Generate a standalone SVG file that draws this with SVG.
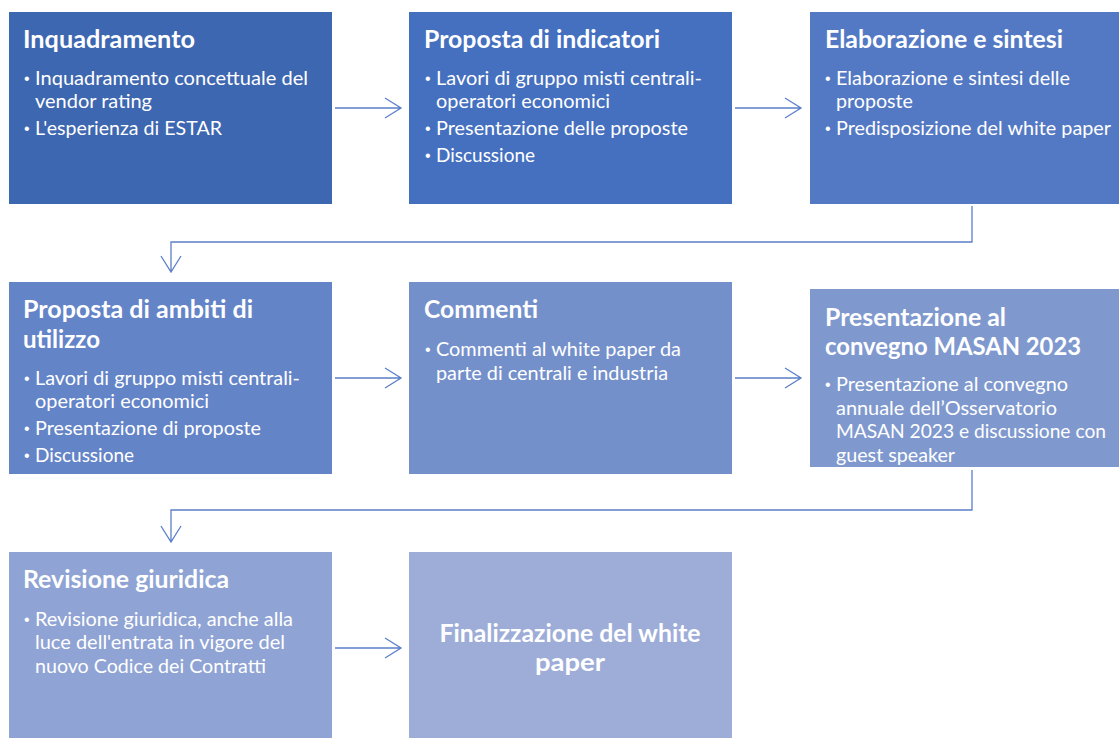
<svg xmlns="http://www.w3.org/2000/svg" width="1119" height="738" viewBox="0 0 1119 738">
  <defs>
    <style>
      .t { font-family: Lato, "Open Sans", "Liberation Sans", sans-serif; font-weight: 700; font-size: 25px; fill: #ffffff; }
      .b { font-family: Lato, "Open Sans", "Liberation Sans", sans-serif; font-size: 19px; fill: #ffffff; }
      .dot { font-family: "Liberation Sans", sans-serif; font-size: 16px; fill: #ffffff; }
      .link { fill: none; stroke: #5b7fc9; stroke-width: 1.3; }
    </style>
  </defs>
  <rect width="1119" height="738" fill="#ffffff"/>

  <!-- row 1 -->
  <g id="inquadramento">
    <rect x="9" y="12" width="323" height="192" fill="#3e67b1"/>
    <text class="t" x="23" y="48" textLength="172" lengthAdjust="spacingAndGlyphs">Inquadramento</text>
    <text class="dot" x="24" y="84">•</text>
    <text class="b" x="35" y="85" textLength="273" lengthAdjust="spacingAndGlyphs">Inquadramento concettuale del</text>
    <text class="b" x="35" y="108" textLength="117" lengthAdjust="spacingAndGlyphs">vendor rating</text>
    <text class="dot" x="24" y="134">•</text>
    <text class="b" x="35" y="135" textLength="187" lengthAdjust="spacingAndGlyphs">L'esperienza di ESTAR</text>
  </g>

  <g id="proposta-indicatori">
    <rect x="409" y="12" width="323" height="192" fill="#4570c0"/>
    <text class="t" x="424" y="48" textLength="236" lengthAdjust="spacingAndGlyphs">Proposta di indicatori</text>
    <text class="dot" x="425" y="84">•</text>
    <text class="b" x="436" y="85" textLength="266" lengthAdjust="spacingAndGlyphs">Lavori di gruppo misti centrali-</text>
    <text class="b" x="436" y="108" textLength="174" lengthAdjust="spacingAndGlyphs">operatori economici</text>
    <text class="dot" x="425" y="134">•</text>
    <text class="b" x="436" y="135" textLength="252" lengthAdjust="spacingAndGlyphs">Presentazione delle proposte</text>
    <text class="dot" x="425" y="161">•</text>
    <text class="b" x="436" y="162" textLength="99" lengthAdjust="spacingAndGlyphs">Discussione</text>
  </g>

  <g id="elaborazione-sintesi">
    <rect x="810" y="12" width="323" height="192" fill="#5479c4"/>
    <text class="t" x="825" y="48" textLength="238" lengthAdjust="spacingAndGlyphs">Elaborazione e sintesi</text>
    <text class="dot" x="825" y="84">•</text>
    <text class="b" x="836" y="85" textLength="234" lengthAdjust="spacingAndGlyphs">Elaborazione e sintesi delle</text>
    <text class="b" x="836" y="108" textLength="77" lengthAdjust="spacingAndGlyphs">proposte</text>
    <text class="dot" x="825" y="134">•</text>
    <text class="b" x="836" y="135" textLength="275" lengthAdjust="spacingAndGlyphs">Predisposizione del white paper</text>
  </g>

  <!-- row 2 -->
  <g id="proposta-ambiti">
    <rect x="9" y="282" width="323" height="192" fill="#6484c8"/>
    <text class="t" x="23" y="318" textLength="230" lengthAdjust="spacingAndGlyphs">Proposta di ambiti di</text>
    <text class="t" x="23" y="348" textLength="77" lengthAdjust="spacingAndGlyphs">utilizzo</text>
    <text class="dot" x="24" y="384">•</text>
    <text class="b" x="35" y="385" textLength="265" lengthAdjust="spacingAndGlyphs">Lavori di gruppo misti centrali-</text>
    <text class="b" x="35" y="408" textLength="174" lengthAdjust="spacingAndGlyphs">operatori economici</text>
    <text class="dot" x="24" y="434">•</text>
    <text class="b" x="35" y="435" textLength="226" lengthAdjust="spacingAndGlyphs">Presentazione di proposte</text>
    <text class="dot" x="24" y="461">•</text>
    <text class="b" x="35" y="462" textLength="99" lengthAdjust="spacingAndGlyphs">Discussione</text>
  </g>

  <g id="commenti">
    <rect x="409" y="282" width="323" height="192" fill="#7490cb"/>
    <text class="t" x="424" y="318" textLength="114" lengthAdjust="spacingAndGlyphs">Commenti</text>
    <text class="dot" x="425" y="355">•</text>
    <text class="b" x="436" y="356" textLength="245" lengthAdjust="spacingAndGlyphs">Commenti al white paper da</text>
    <text class="b" x="436" y="380" textLength="232" lengthAdjust="spacingAndGlyphs">parte di centrali e industria</text>
  </g>

  <g id="presentazione-convegno">
    <rect x="810" y="289" width="323" height="178" fill="#7f99cf"/>
    <text class="t" x="825" y="326" textLength="181" lengthAdjust="spacingAndGlyphs">Presentazione al</text>
    <text class="t" x="825" y="355" textLength="256" lengthAdjust="spacingAndGlyphs">convegno MASAN 2023</text>
    <text class="dot" x="825" y="390">•</text>
    <text class="b" x="836" y="391" textLength="232" lengthAdjust="spacingAndGlyphs">Presentazione al convegno</text>
    <text class="b" x="836" y="415" textLength="221" lengthAdjust="spacingAndGlyphs">annuale dell’Osservatorio</text>
    <text class="b" x="836" y="438" textLength="270" lengthAdjust="spacingAndGlyphs">MASAN 2023 e discussione con</text>
    <text class="b" x="836" y="462" textLength="119" lengthAdjust="spacingAndGlyphs">guest speaker</text>
  </g>

  <!-- row 3 -->
  <g id="revisione-giuridica">
    <rect x="9" y="552" width="323" height="192" fill="#8fa4d4"/>
    <text class="t" x="23" y="588" textLength="206" lengthAdjust="spacingAndGlyphs">Revisione giuridica</text>
    <text class="dot" x="24" y="625">•</text>
    <text class="b" x="35" y="626" textLength="258" lengthAdjust="spacingAndGlyphs">Revisione giuridica, anche alla</text>
    <text class="b" x="35" y="649" textLength="250" lengthAdjust="spacingAndGlyphs">luce dell'entrata in vigore del</text>
    <text class="b" x="35" y="673" textLength="231" lengthAdjust="spacingAndGlyphs">nuovo Codice dei Contratti</text>
  </g>

  <g id="finalizzazione">
    <rect x="409" y="552" width="323" height="192" fill="#9eadd8"/>
    <text class="t" x="570" y="642" text-anchor="middle" textLength="261" lengthAdjust="spacingAndGlyphs">Finalizzazione del white</text>
    <text class="t" x="570" y="671" text-anchor="middle" textLength="70" lengthAdjust="spacingAndGlyphs">paper</text>
  </g>

  <!-- connectors -->
  <g id="connectors">
    <path class="link" d="M335 108 H401 M385 98 L401 108 L385 118"/>
    <path class="link" d="M735 108 H801 M785 98 L801 108 L785 118"/>
    <path class="link" d="M972 206 V242 H171 V272 M161 256 L171 272 L181 256"/>
    <path class="link" d="M335 378 H401 M385 368 L401 378 L385 388"/>
    <path class="link" d="M735 378 H801 M785 368 L801 378 L785 388"/>
    <path class="link" d="M972 470 V510 H171 V542 M161 526 L171 542 L181 526"/>
    <path class="link" d="M335 648 H401 M385 638 L401 648 L385 658"/>
  </g>
</svg>
